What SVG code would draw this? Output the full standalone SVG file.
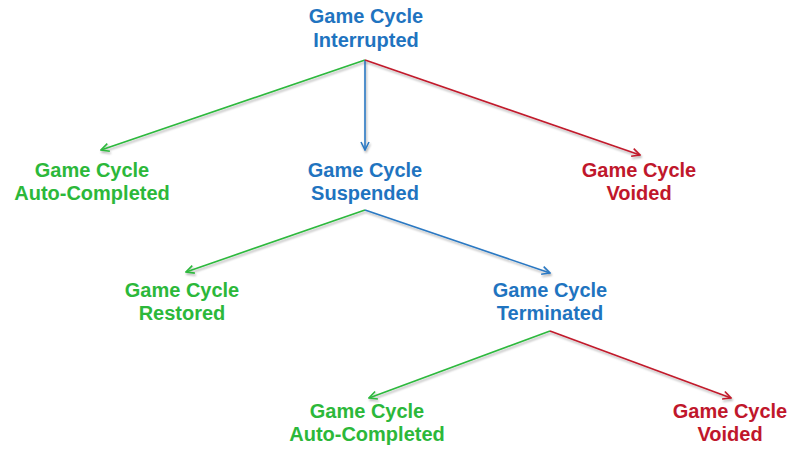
<svg xmlns="http://www.w3.org/2000/svg" width="794" height="449" viewBox="0 0 794 449">
<defs>
<filter id="sh" filterUnits="userSpaceOnUse" x="0" y="0" width="794" height="449">
<feDropShadow dx="1" dy="2" stdDeviation="1" flood-color="#000" flood-opacity="0.3"/>
</filter>
<marker id="ag" viewBox="0 0 10 10" refX="9" refY="5" markerWidth="10" markerHeight="10" markerUnits="userSpaceOnUse" orient="auto"><path d="M1,1 L9,5 L1,9" fill="none" stroke="#2db83d" stroke-width="1.6"/></marker>
<marker id="ab" viewBox="0 0 10 10" refX="9" refY="5" markerWidth="10" markerHeight="10" markerUnits="userSpaceOnUse" orient="auto"><path d="M1,1 L9,5 L1,9" fill="none" stroke="#2a78c2" stroke-width="1.6"/></marker>
<marker id="ar" viewBox="0 0 10 10" refX="9" refY="5" markerWidth="10" markerHeight="10" markerUnits="userSpaceOnUse" orient="auto"><path d="M1,1 L9,5 L1,9" fill="none" stroke="#c11a2c" stroke-width="1.6"/></marker>
</defs>
<style>
text{font-family:"Liberation Sans",Arial,sans-serif;font-weight:bold;font-size:20px;text-anchor:middle}
.b{fill:#1f74c0}.g{fill:#2cb83a}.r{fill:#c0172b}
.c{fill:none;stroke-width:1.6;filter:url(#sh)}
.cg{stroke:#2db83d;marker-end:url(#ag)}
.cb{stroke:#2a78c2;marker-end:url(#ab)}
.cr{stroke:#c11a2c;marker-end:url(#ar)}
</style>
<rect width="794" height="449" fill="#fff"/>
<g id="connectors">
<line class="c cg" x1="365" y1="60" x2="101" y2="150"/>
<line class="c cb" x1="365" y1="60" x2="365" y2="150"/>
<line class="c cr" x1="365" y1="60" x2="640" y2="155"/>
<line class="c cg" x1="365" y1="210" x2="186" y2="272"/>
<line class="c cb" x1="365" y1="210" x2="550" y2="273"/>
<line class="c cg" x1="550" y1="331" x2="369" y2="398"/>
<line class="c cr" x1="550" y1="331" x2="731" y2="398"/>
</g>
<g id="interrupted"><text class="b" x="366" y="23">Game Cycle</text><text class="b" x="366" y="47">Interrupted</text></g>
<g id="autocompleted1"><text class="g" x="92" y="177">Game Cycle</text><text class="g" x="92" y="200">Auto-Completed</text></g>
<g id="suspended"><text class="b" x="365" y="177">Game Cycle</text><text class="b" x="365" y="200">Suspended</text></g>
<g id="voided1"><text class="r" x="639" y="177">Game Cycle</text><text class="r" x="639" y="200">Voided</text></g>
<g id="restored"><text class="g" x="182" y="297">Game Cycle</text><text class="g" x="182" y="320">Restored</text></g>
<g id="terminated"><text class="b" x="550" y="297">Game Cycle</text><text class="b" x="550" y="320">Terminated</text></g>
<g id="autocompleted2"><text class="g" x="367" y="418">Game Cycle</text><text class="g" x="367" y="441">Auto-Completed</text></g>
<g id="voided2"><text class="r" x="730" y="418">Game Cycle</text><text class="r" x="730" y="441">Voided</text></g>
</svg>
